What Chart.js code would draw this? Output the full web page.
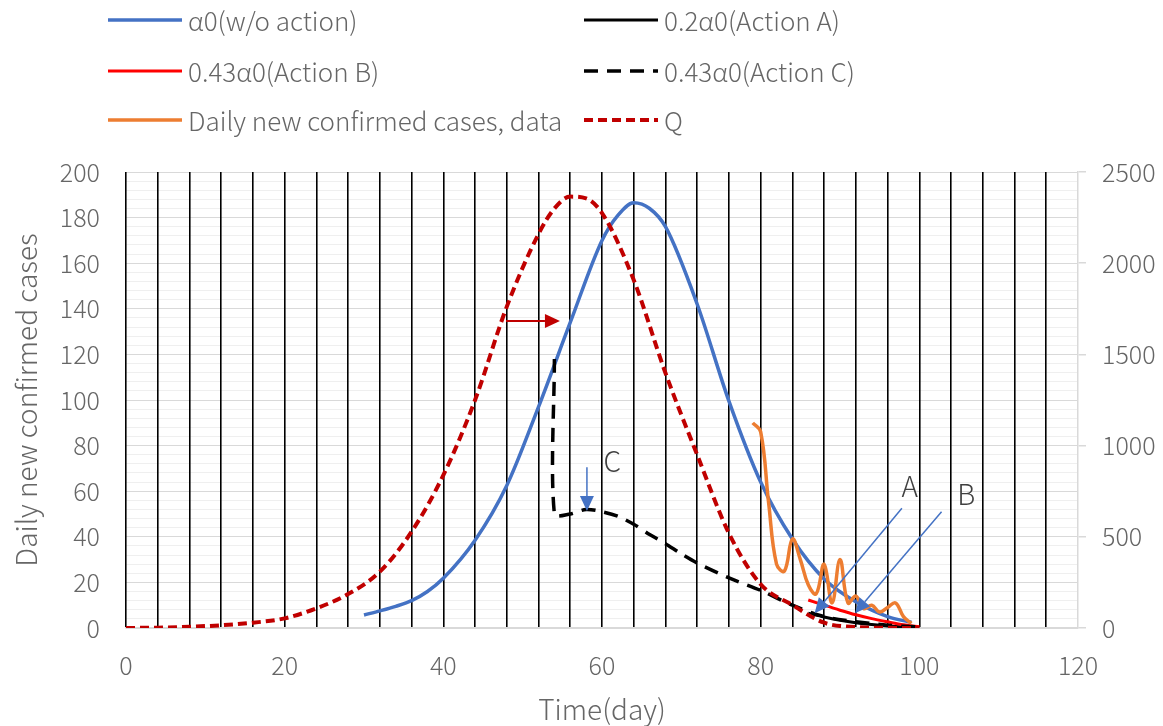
<!DOCTYPE html>
<html>
<head>
<meta charset="utf-8">
<script src="https://cdn.jsdelivr.net/npm/chart.js"></script>
<style>
  html, body { margin: 0; padding: 0; background: #fff; }
  #wrap { width: 1163px; height: 726px; }
</style>
</head>
<body>
<div id="wrap"><canvas id="simChart"></canvas></div>
<script>
// model without action (left axis)
const baseDays  = [30, 32, 34, 36, 38, 40, 44, 48, 52, 56, 60, 62, 64, 66, 68, 72, 76, 80, 84, 88, 92, 96, 99];
const baseCases = [5.7, 7.5, 9.5, 12, 16, 21.8, 38.5, 62.5, 97, 134, 170, 181, 186.5, 184, 176, 142, 99.5, 64, 39, 21.5, 11.5, 5, 2.5];

// action A / B / C runs
const actionADays  = [86, 88, 90, 92, 94, 96, 98, 100];
const actionACases = [6.5, 4.8, 3.4, 2.3, 1.5, 0.9, 0.5, 0.3];
const actionBDays  = [86, 88, 90, 92, 94, 96, 98, 100];
const actionBCases = [12.3, 10, 7.8, 5.8, 4.1, 2.7, 1.4, 0.5];
const actionCDays  = [54, 54, 56, 58, 60, 62, 64, 66, 68, 70, 72, 76, 80, 84, 88, 92, 96, 100];
const actionCCases = [118, 50, 50, 52, 51, 49, 45.5, 41, 37, 32.5, 28.5, 22, 16.5, 10, 5, 2.8, 1.2, 0.4];

// reported daily cases
const dataDays  = [79, 80, 81, 82, 83, 84, 85, 86, 87, 88, 89, 90, 91, 92, 93, 94, 95, 96, 97, 98, 99];
const dataCases = [90, 86, 55, 28, 25, 39, 30, 19, 15, 28, 11, 30, 11, 14, 8.5, 10, 7, 9, 11, 5, 2];

// Q (right axis)
const qDays   = [0, 4, 8, 12, 16, 20, 24, 28, 32, 36, 40, 44, 48, 52, 54, 56, 58, 60, 64, 68, 72, 76, 80, 84, 88, 92, 96, 100];
const qValues = [0, 2, 7, 15, 29, 53, 108, 186, 309, 528, 838, 1250, 1762, 2160, 2300, 2365, 2355, 2275, 1908, 1398, 949, 519, 240, 126, 29, 5, 1, 0];

// arrows and letters, in data units of the left axis
const noteArrows = [
  { from: [47.9, 134.6], to: [54.7, 134.6], color: '#C00000', width: 2 },
  { from: [58.1, 70.5],  to: [58.1, 51.3],  color: '#4472C4', width: 1.5 },
  { from: [97.8, 52.5],  to: [86.8, 6.5],   color: '#4472C4', width: 1.5 },
  { from: [102.8, 51],   to: [91.9, 6.5],   color: '#4472C4', width: 1.5 }
];
const noteLabels = [
  { text: 'A', at: [98.8, 62] },
  { text: 'B', at: [105.9, 58.5] },
  { text: 'C', at: [61.3, 73] }
];

const FONT = '"Noto Sans CJK JP", "Liberation Sans", sans-serif';
const GREY = '#666666';

const toPoints = (xs, ys) => xs.map((x, i) => ({ x: x, y: ys[i] }));

function drawArrow(ctx, x1, y1, x2, y2, color, width) {
  const ang = Math.atan2(y2 - y1, x2 - x1);
  const head = 15, half = 7;
  const bx = x2 - head * Math.cos(ang), by = y2 - head * Math.sin(ang);
  ctx.strokeStyle = color;
  ctx.fillStyle = color;
  ctx.lineWidth = width;
  ctx.beginPath();
  ctx.moveTo(x1, y1);
  ctx.lineTo(bx, by);
  ctx.stroke();
  ctx.beginPath();
  ctx.moveTo(x2, y2);
  ctx.lineTo(bx + half * Math.sin(ang), by - half * Math.cos(ang));
  ctx.lineTo(bx - half * Math.sin(ang), by + half * Math.cos(ang));
  ctx.closePath();
  ctx.fill();
}

const notes = {
  id: 'notes',
  afterDatasetsDraw(chart) {
    const ctx = chart.ctx, xs = chart.scales.x, ys = chart.scales.y;
    ctx.save();
    noteArrows.forEach(a => {
      drawArrow(ctx, xs.getPixelForValue(a.from[0]), ys.getPixelForValue(a.from[1]),
        xs.getPixelForValue(a.to[0]), ys.getPixelForValue(a.to[1]), a.color, a.width);
    });
    ctx.font = '300 28px ' + FONT;
    ctx.fillStyle = '#404040';
    ctx.textAlign = 'center';
    ctx.textBaseline = 'middle';
    noteLabels.forEach(l => {
      ctx.fillText(l.text, xs.getPixelForValue(l.at[0]), ys.getPixelForValue(l.at[1]));
    });
    ctx.restore();
  }
};

// two-column legend above the plot
const legendCols = [108, 584];
const legendRows = [20, 71, 120];
const gridLegend = {
  id: 'gridLegend',
  afterDraw(chart) {
    const ctx = chart.ctx;
    ctx.save();
    ctx.font = '300 26px ' + FONT;
    ctx.textBaseline = 'middle';
    ctx.textAlign = 'left';
    chart.data.datasets.forEach((ds, i) => {
      const x = legendCols[i % 2], y = legendRows[Math.floor(i / 2)];
      ctx.strokeStyle = ds.borderColor;
      ctx.lineWidth = ds.borderWidth;
      ctx.setLineDash(ds.borderDash || []);
      ctx.beginPath();
      ctx.moveTo(x, y);
      ctx.lineTo(x + 74, y);
      ctx.stroke();
      ctx.setLineDash([]);
      ctx.fillStyle = GREY;
      ctx.fillText(ds.label, x + 80, y + 1);
    });
    ctx.restore();
  }
};

const tickFont = { family: FONT, size: 25, weight: 300 };
const titleFont = { family: FONT, size: 28, weight: 300 };

const ctx = document.getElementById('simChart').getContext('2d');
const simChart = new Chart(ctx, {
  type: 'line',
  data: {
    datasets: [
      { label: 'α0(w/o action)', data: toPoints(baseDays, baseCases), borderColor: '#4472C4',
        borderWidth: 3.5, cubicInterpolationMode: 'monotone', yAxisID: 'y', order: 5 },
      { label: '0.2α0(Action A)', data: toPoints(actionADays, actionACases), borderColor: '#000000',
        borderWidth: 3, tension: 0.3, yAxisID: 'y', order: 4 },
      { label: '0.43α0(Action B)', data: toPoints(actionBDays, actionBCases), borderColor: '#FF0000',
        borderWidth: 3, tension: 0.3, yAxisID: 'y', order: 3 },
      { label: '0.43α0(Action C)', data: toPoints(actionCDays, actionCCases), borderColor: '#000000',
        borderWidth: 3.5, borderDash: [14, 9], tension: 0.3, yAxisID: 'y', order: 2 },
      { label: 'Daily new confirmed cases, data', data: toPoints(dataDays, dataCases), borderColor: '#ED7D31',
        borderWidth: 3.5, tension: 0.4, yAxisID: 'y', order: 1 },
      { label: 'Q', data: toPoints(qDays, qValues), borderColor: '#C00000',
        borderWidth: 4, borderDash: [9, 5], cubicInterpolationMode: 'monotone', yAxisID: 'y2', order: 0 }
    ]
  },
  options: {
    responsive: true,
    maintainAspectRatio: false,
    animation: false,
    elements: { point: { radius: 0, hoverRadius: 0 } },
    layout: { padding: { top: 172, left: 0, right: 0, bottom: 0 } },
    plugins: { legend: { display: false }, tooltip: { enabled: false } },
    scales: {
      x: {
        type: 'linear',
        min: 0, max: 120,
        afterFit: s => { s.height = 98; },
        ticks: {
          stepSize: 4, autoSkip: false, maxRotation: 0, padding: 22,
          color: GREY, font: tickFont,
          callback: v => (v % 20 === 0 ? String(v) : '')
        },
        grid: {
          z: -1, drawTicks: false, lineWidth: 1.6,
          color: c => (c.tick && c.tick.value >= 120 ? 'rgba(0,0,0,0)' : '#000000')
        },
        border: { color: '#d9d9d9', width: 1.5 },
        title: { display: true, text: 'Time(day)', color: GREY,
                 font: titleFont, padding: { top: 0, bottom: 0 } }
      },
      y: {
        position: 'left',
        min: 0, max: 200,
        afterFit: s => { s.width = 126; },
        ticks: {
          stepSize: 4, autoSkip: false, padding: 26,
          color: GREY, font: tickFont,
          callback: v => (v % 20 === 0 ? String(v) : '')
        },
        grid: {
          z: -2, drawTicks: false, lineWidth: 1,
          color: c => (c.tick && c.tick.value % 20 === 0 ? '#d9d9d9' : '#efefef')
        },
        border: { display: false },
        title: { display: true, text: 'Daily new confirmed cases', color: GREY,
                 font: titleFont, padding: { top: 10, bottom: 0 } }
      },
      y2: {
        position: 'right',
        min: 0, max: 2500,
        afterFit: s => { s.width = 85; },
        ticks: {
          stepSize: 500, padding: 16,
          color: GREY, font: tickFont,
          callback: v => String(v)
        },
        grid: { drawOnChartArea: false, drawTicks: true, tickLength: 8, color: '#d9d9d9', lineWidth: 1.5 },
        border: { color: '#d9d9d9', width: 1.5 }
      }
    }
  },
  plugins: [notes, gridLegend]
});
</script>
</body>
</html>
